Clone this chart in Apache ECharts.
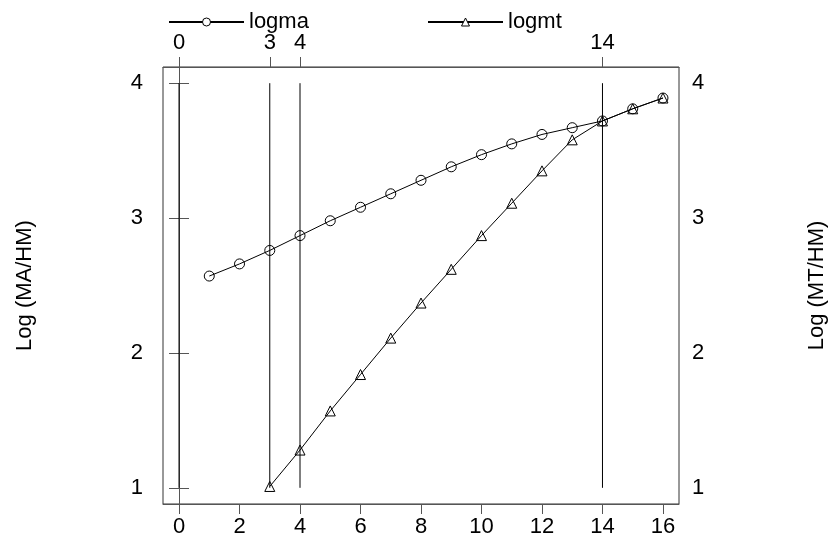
<!DOCTYPE html>
<html><head><meta charset="utf-8">
<script src="https://cdn.jsdelivr.net/npm/echarts@6/dist/echarts.min.js"></script>
<style>html,body{margin:0;padding:0;background:#fff}#c{width:830px;height:541px}</style>
</head><body><div id="c"></div>
<script>
const xValues = [1,2,3,4,5,6,7,8,9,10,11,12,13,14,15,16];
const logma = [2.57,2.66,2.76,2.87,2.98,3.08,3.18,3.28,3.38,3.47,3.55,3.62,3.67,3.72,3.81,3.89];
const logmtX = [3,4,5,6,7,8,9,10,11,12,13,14,15,16];
const logmt = [1.01,1.28,1.57,1.84,2.11,2.37,2.62,2.87,3.11,3.35,3.58,3.72,3.81,3.89];
const vlines = [0,3,4,14];
const vlineRange = [1,4];
const bottomTicks = [0,2,4,6,8,10,12,14,16];
const yTicks = [1,2,3,4];

const FONT = 'Liberation Sans';
const FS = 22;
const hollow = {color:'rgba(0,0,0,0)', borderColor:'#000', borderWidth:1};

const series = [
  {name:'logma', type:'line', data: xValues.map((x,i)=>[x,logma[i]]),
   symbol:'circle', symbolSize:10, lineStyle:{color:'#000',width:1}, itemStyle:hollow, color:'#000'},
  {name:'logmt', type:'line', data: logmtX.map((x,i)=>[x,logmt[i]]),
   symbol:'triangle', symbolSize:10, lineStyle:{color:'#000',width:1}, itemStyle:hollow, color:'#000'}
];
vlines.forEach(v => series.push({
  type:'line', silent:true, symbol:'none', data: vlineRange.map(y=>[v,y]),
  lineStyle:{color:'#000', width:1}, z:1
}));

const axisCommon = {
  axisLine:{show:true, lineStyle:{color:'#555', width:1}},
  axisTick:{show:true, length:10, lineStyle:{color:'#555', width:1}},
  axisLabel:{color:'#000', fontFamily:FONT, fontSize:FS},
  splitLine:{show:false}
};
const legendItem = {color:'#fff', borderColor:'#000', borderWidth:1};

const option = {
  animation:false,
  textStyle:{fontFamily:FONT},
  grid:{left:163, right:151, top:67, bottom:37, show:true, borderColor:'#333', borderWidth:1,
        backgroundColor:'transparent', outerBoundsMode:'none', containLabel:false},
  legend:[
    {data:[{name:'logma', itemStyle:legendItem}], left:163, top:6, itemWidth:75, itemHeight:10,
     textStyle:{fontFamily:FONT, fontSize:FS, color:'#000', padding:[0,0,0,0]}},
    {data:[{name:'logmt', itemStyle:legendItem}], left:422, top:6, itemWidth:75, itemHeight:10,
     textStyle:{fontFamily:FONT, fontSize:FS, color:'#000', padding:[0,0,0,0]}}
  ],
  xAxis:[
    Object.assign({}, axisCommon, {type:'value', position:'bottom', min:-0.53, max:16.53,
      axisTick:Object.assign({}, axisCommon.axisTick, {customValues:bottomTicks}),
      axisLabel:Object.assign({}, axisCommon.axisLabel, {customValues:bottomTicks, margin:12})}),
    Object.assign({}, axisCommon, {type:'value', position:'top', min:-0.53, max:16.53,
      axisTick:Object.assign({}, axisCommon.axisTick, {customValues:vlines}),
      axisLabel:Object.assign({}, axisCommon.axisLabel, {customValues:vlines, margin:13})})
  ],
  yAxis:[
    Object.assign({}, axisCommon, {type:'value', position:'left', min:0.88, max:4.12,
      name:'Log (MA/HM)', nameLocation:'middle', nameRotate:90, nameGap:127,
      nameTextStyle:{fontFamily:FONT, fontSize:FS, color:'#000'},
      axisTick:Object.assign({}, axisCommon.axisTick, {customValues:yTicks}),
      axisLabel:Object.assign({}, axisCommon.axisLabel, {customValues:yTicks, margin:20})}),
    Object.assign({}, axisCommon, {type:'value', position:'right', min:0.88, max:4.12,
      name:'Log (MT/HM)', nameLocation:'middle', nameRotate:90, nameGap:127,
      nameTextStyle:{fontFamily:FONT, fontSize:FS, color:'#000'},
      axisTick:Object.assign({}, axisCommon.axisTick, {customValues:yTicks}),
      axisLabel:Object.assign({}, axisCommon.axisLabel, {customValues:yTicks, margin:13})})
  ],
  series: series
};
echarts.init(document.getElementById('c'), null, {renderer:'canvas'}).setOption(option);
</script></body></html>
